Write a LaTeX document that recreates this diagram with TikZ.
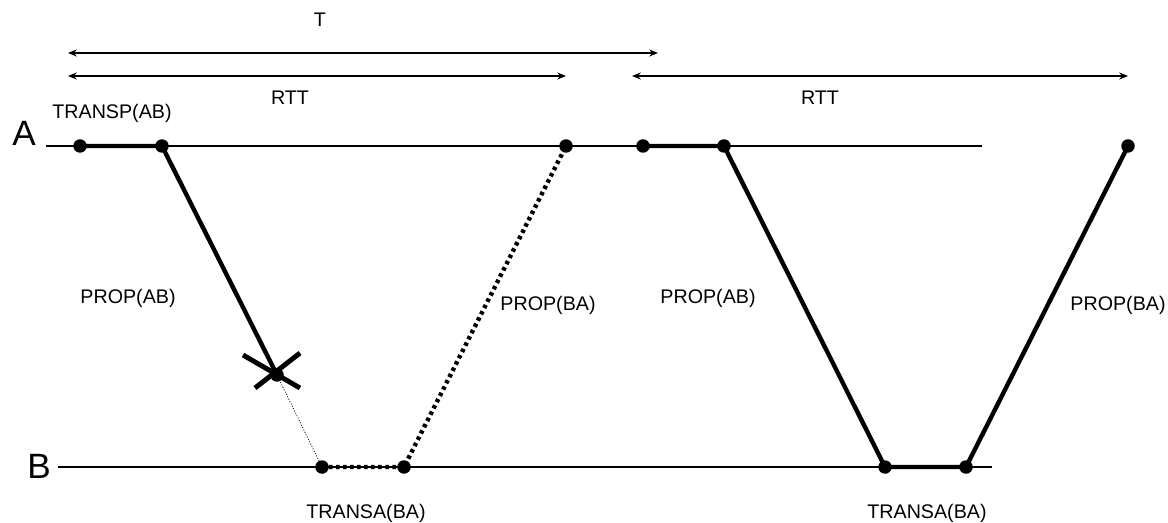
\documentclass[tikz,border=0pt]{standalone}
\usepackage{fontspec}
\setmainfont{Liberation Sans}
\usetikzlibrary{arrows.meta}
\begin{document}
\begin{tikzpicture}[x=0.02cm,y=-0.02cm,
    lbl/.style={font=\fontsize{11.2}{13}\selectfont},
    big/.style={font=\fontsize{20}{22}\selectfont},
    dot/.style={fill=black},
    seg/.style={line width=2.5pt},
    segdot/.style={line width=2.5pt,dash pattern=on 2pt off 2pt},
    span/.style={line width=0.8pt,{Stealth[length=5pt,width=4pt]}-{Stealth[length=5pt,width=4pt]}}]
                \useasboundingbox (0,0) rectangle (1168,523);
                % the two stations
                \node[big] (la) at (24,133) {A};
                \node[big] (lb) at (39,466) {B};
                \draw[line width=0.6pt] (46,146) -- (982,146);
                \draw[line width=0.6pt] (58,467) -- (992,467);
                % points on A and B
                \coordinate (a1) at (80,146);  \coordinate (a2) at (162,146);
                \coordinate (a3) at (566,146); \coordinate (a4) at (643,146);
                \coordinate (a5) at (724,146); \coordinate (a6) at (1128,146);
                \coordinate (b1) at (322,467); \coordinate (b2) at (404,467);
                \coordinate (b3) at (885,467); \coordinate (b4) at (966,467);
                \coordinate (x) at (277,375);
                % first frame, lost
                \draw[seg] (a1) -- (a2) -- (x);
                \draw[line width=0.4pt,dash pattern=on 0.6pt off 0.9pt] (x) -- (b1);
                \draw[segdot] (b1) -- (b2) -- (a3);
                \draw[line width=2.8pt] (243,355) -- (300,388) (300,353) -- (255,388);
                % second frame
                \draw[seg] (a4) -- (a5) -- (b3) -- (b4) -- (a6);
                \foreach \p in {a1,a2,a3,a4,a5,a6,b1,b2,b3,b4,x}
                    \fill[dot] (\p) circle (0.135cm);
                % spans
                \draw[span] (68,53) -- (658,53);
                \draw[span] (68,76) -- (566,76);
                \draw[span] (632,76) -- (1128,76);
                \node[lbl] (t) at (320,20) {T};
                \node[lbl] (rtt1) at (290,98) {RTT};
                \node[lbl] (rtt2) at (820,98) {RTT};
                % labels
                \node[lbl] (transp) at (112,113) {TRANSP(AB)};
                \node[lbl] (pab1) at (128,298) {PROP(AB)};
                \node[lbl] (pba1) at (548,305) {PROP(BA)};
                \node[lbl] (pab2) at (708,298) {PROP(AB)};
                \node[lbl] (pba2) at (1118,305) {PROP(BA)};
                \node[lbl] (tba1) at (366,513) {TRANSA(BA)};
                \node[lbl] (tba2) at (927,513) {TRANSA(BA)};
            \end{tikzpicture}
\end{document}
